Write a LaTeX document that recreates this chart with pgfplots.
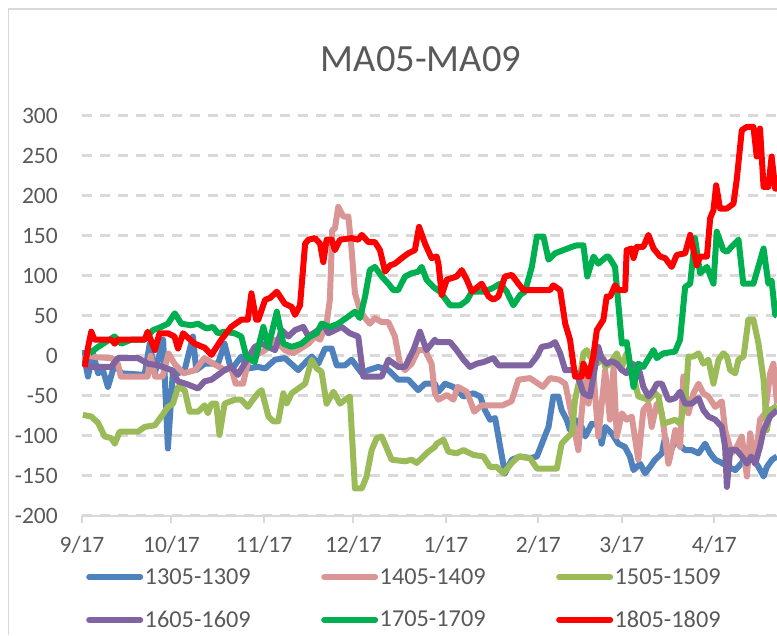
\documentclass[border=0pt]{standalone}
\usepackage{pgfplots}
\pgfplotsset{compat=1.18}
\usepackage{fontspec}
\setmainfont{Carlito}
\definecolor{cBlue}{HTML}{4F81BD}
\definecolor{cPink}{HTML}{DA9694}
\definecolor{cLime}{HTML}{9BBB59}
\definecolor{cPurple}{HTML}{8064A2}
\definecolor{cGreen}{HTML}{00B050}
\definecolor{cRed}{HTML}{FF0000}
\definecolor{gridgray}{HTML}{D9D9D9}
\definecolor{txtgray}{HTML}{595959}
\begin{document}
\begin{tikzpicture}
\useasboundingbox (0,0) rectangle (777pt,635pt);
\draw[gridgray, line width=1.5pt] (8.5pt,0) -- (8.5pt,626pt) -- (777pt,626pt);
\node[anchor=base, font=\fontsize{38.5}{42}\selectfont, text=txtgray, inner sep=0pt] at (421pt,563pt) {MA05-MA09};
\begin{axis}[
  at={(82pt,119.3pt)}, anchor=south west,
  width=695pt, height=400pt, scale only axis,
  xmin=0, xmax=233, ymin=-200, ymax=300,
  axis lines*=left,
  axis line style={-},
  x axis line style={gridgray, line width=2pt},
  y axis line style={draw=none},
  tick align=outside, major tick length=7pt,
  xtick={0,30,61,91,122,153,181,212},
  xticklabels={9/17,10/17,11/17,12/17,1/17,2/17,3/17,4/17},
  ytick={-200,-150,...,300},
  yticklabels={-200,-150,-100,-50,0,50,100,150,200,250,300},
  xtick style={gridgray, line width=2pt},
  ytick style={draw=none},
  ticklabel style={font=\fontsize{23.5}{26}\selectfont, text=txtgray, inner sep=0pt},
  yticklabel style={xshift=-17pt},
  xticklabel style={yshift=-13pt},
  ymajorgrids, major grid style={gridgray, line width=2.5pt, dash pattern=on 10pt off 8pt},
  every axis plot/.append style={line width=6pt, line join=round, no markers},
  legend columns=3,
  legend cell align=left,
  legend image code/.code={\draw[#1, line width=6pt, line cap=round] (0pt,0pt) -- (51pt,0pt);},
  legend style={at={(rel axis cs:0.0058,-0.1275)}, anchor=north west, draw=none, fill=none,
    font=\fontsize{24.3}{27}\selectfont, text=txtgray, inner sep=0pt,
    nodes={inner sep=1.5pt}, row sep=22pt,
    /tikz/every even column/.append style={column sep=69pt}},
]
\addplot[cBlue] coordinates {(0.3,7) (2,-26) (3.7,3) (5.4,-22) (7,-18) (8.7,-39) (11,-10) (13.2,-22) (21,-24) (22.7,15) (24.4,-22) (27.2,20) (28.8,-116) (30.5,-18) (32.2,-22) (34.4,-18) (37.2,24) (38.3,-18) (41.1,-10) (45.6,-10) (47.8,15) (50,-18) (53.4,-1) (55.6,-16) (59,-14) (61.4,-16) (64.7,-5) (68,-3) (72.5,-18) (75.3,-7) (77,-1) (79.2,-10) (81.5,9) (83.7,9) (85.4,-12) (88.2,-12) (90.4,-5) (93.8,-22) (96,-18) (99.3,-14) (102.7,-18) (106,-30) (109.4,-30) (112.7,-43) (115,-35) (118.3,-35) (119.5,-45) (121.7,-35) (124.5,-39) (127.9,-51) (131.2,-47) (133.5,-51) (135.1,-68) (136.8,-80) (138.5,-78) (140.2,-114) (141.8,-147) (144.1,-130) (146.9,-126) (150.2,-128) (152.5,-126) (154.7,-105) (156.4,-89) (158,-51) (159.7,-51) (160.8,-68) (162.5,-80) (163.6,-93) (165.3,-80) (167.5,-89) (168.7,-101) (170.9,-85) (173.1,-87) (174.2,-110) (175.4,-89) (177.6,-97) (179.8,-110) (182,-114) (183.7,-126) (184.9,-143) (187.1,-135) (188.8,-147) (190.4,-139) (192.1,-130) (194.4,-122) (195.5,-101) (196.6,-126) (198.9,-106) (201.1,-114) (202.2,-118) (204.4,-118) (206.7,-122) (208.9,-110) (210.6,-122) (212.3,-130) (214.5,-134) (216.7,-139) (219,-143) (221.2,-134) (223.4,-126) (225.1,-130) (226.8,-139) (228.5,-151) (229.6,-139) (231.3,-130) (233,-126)};
\addlegendentry{1305-1309}
\addplot[cPink] coordinates {(0,-5) (2,0) (5,-2) (10,-3) (12,-10) (13,-26) (22,-26) (23,0) (24.5,-26) (27,-26) (29,3) (31,-10) (34,-22) (38,-18) (41,-3) (44,-10) (48,-18) (50,-15) (51.5,-35) (54,-35) (55.5,-10) (58,0) (61.4,7) (64.7,20) (68,7) (70.8,3) (72.5,7) (75.9,15) (78.1,24) (79.8,20) (82,40) (83.1,70) (83.9,157) (84.8,159) (85.9,186) (87.6,174) (89.3,174) (90.4,132) (91.5,78) (93.2,57) (94.9,47) (96.5,40) (98.2,47) (100.5,42) (102.7,42) (104.9,24) (106.6,-10) (108.3,-18) (110.5,-10) (112.7,7) (115,7) (117.2,-10) (118.3,-47) (119.5,-55) (122.3,-49) (124.5,-55) (126,-39) (129,-45) (131.5,-70) (134,-62) (141,-62) (144,-57) (146.3,-30) (150.2,-28) (154.5,-39) (156.9,-28) (160,-30) (162,-35) (163.6,-64) (166.4,-118) (168.7,-22) (169.8,-60) (171.4,-18) (173.1,-101) (175.4,-18) (177,-80) (178.2,-14) (179.3,-101) (181,-72) (182.6,-80) (184.3,-76) (186.5,-130) (188.2,-68) (189.9,-60) (191,-89) (192.7,-60) (194.4,-72) (196.6,-135) (197.2,-126) (198.9,-93) (200.5,-114) (201.6,-26) (203.3,-72) (205,-47) (206.7,-35) (208.3,-47) (210,-51) (212.3,-64) (214.5,-57) (215.6,-93) (217.8,-122) (219.5,-114) (221.2,-101) (222.9,-151) (224,-97) (225.7,-135) (227.3,-80) (229,-72) (230.7,-22) (231.8,-10) (233,-60)};
\addlegendentry{1405-1409}
\addplot[cLime] coordinates {(0.3,-74) (3.1,-76) (5.4,-84) (7.6,-101) (9.8,-103) (11,-110) (12.6,-95) (18.8,-95) (21,-89) (24.4,-87) (26.6,-76) (28.8,-64) (30.5,-60) (32.2,-39) (33.3,-41) (34.4,-43) (36.1,-70) (38.9,-70) (41.1,-62) (42.2,-72) (43.4,-60) (45,-60) (46.1,-99) (47.8,-60) (51.2,-55) (53.4,-55) (55.6,-64) (57.3,-55) (59,-47) (60.2,-43) (62.5,-76) (64.1,-82) (65.8,-82) (67.5,-47) (68.6,-60) (70.3,-47) (72.5,-41) (74.8,-35) (77,-5) (78.7,-16) (80.3,-20) (82,-60) (84.3,-45) (86.5,-60) (88.2,-55) (89.8,-51) (91.5,-166) (93.8,-166) (95.4,-151) (97.1,-118) (98.8,-103) (100.5,-101) (103.8,-130) (108.3,-132) (110.5,-130) (112.2,-134) (113.9,-128) (116.1,-120) (118.3,-114) (118.9,-110) (121.2,-105) (122.8,-120) (125.6,-122) (127.9,-118) (131.2,-124) (134.6,-126) (136.8,-139) (139,-139) (141.3,-147) (144.1,-134) (146.3,-126) (150.2,-128) (152.5,-141) (159.2,-141) (160.8,-110) (162.5,-103) (164.2,-97) (165.3,-55) (167,-26) (168.1,3) (169.2,7) (170.3,-1) (172.6,-10) (174.8,-3) (175.4,-14) (177,-10) (179.3,3) (181,-14) (182.6,3) (184.9,-26) (186.5,-51) (189.9,-55) (192.1,-47) (193.3,-51) (194.9,-85) (198.9,-80) (200.5,-85) (202.2,-60) (203.3,-1) (205,-1) (206.7,3) (208.3,-10) (210,-5) (211.7,-35) (213.4,-5) (215,3) (216.2,-1) (217.3,-18) (219,-22) (220.1,-5) (221.8,-1) (223.4,45) (225.1,45) (226.8,15) (228.5,-30) (229.6,-93) (230.7,-68) (232.4,-64) (233,-62)};
\addlegendentry{1505-1509}
\addplot[cPurple] coordinates {(0.9,-14) (9.8,-14) (12,-3) (18.8,-3) (22.1,-10) (25.5,-12) (30,-18) (32.2,-32) (35.5,-36) (38.9,-41) (41.1,-32) (43.4,-30) (45.6,-24) (47.8,-18) (50,-14) (52.3,-24) (54.5,-10) (57.9,11) (60.2,15) (64.7,7) (66.9,32) (69.2,24) (71.4,32) (74.2,36) (75.9,24) (79.2,32) (80.9,40) (82.6,28) (87,36) (89.8,28) (92.6,24) (94.3,-26) (100.5,-26) (102.7,-5) (106,-14) (108.3,-14) (111.1,7) (113.3,30) (115.5,7) (118.3,20) (118.9,17) (123.4,17) (125.6,7) (127.9,-5) (130.1,-14) (132.3,-10) (134.6,-8) (137.9,-3) (139.6,-12) (150.2,-12) (152.5,-1) (154.1,11) (156.9,13) (158.6,17) (160.3,3) (162,-18) (164.7,-18) (165.9,-22) (168.1,-47) (170.3,-51) (172,-14) (173.1,11) (174.2,-3) (175.9,-10) (177.6,-7) (179.3,-10) (181,-18) (182.6,-22) (184.3,-10) (186.5,-14) (188.2,-39) (189.9,-51) (191.6,-43) (192.7,-35) (194.4,-35) (196.6,-55) (197.2,-55) (198.9,-53) (200.5,-45) (202.2,-60) (204.4,-60) (206.7,-53) (208.3,-68) (210,-76) (212.3,-80) (214.5,-89) (215.6,-114) (216.2,-164) (217.3,-118) (219.5,-118) (221.2,-126) (222.9,-135) (224.3,-126) (225.7,-135) (227.3,-114) (228.5,-93) (230.7,-76) (233,-68)};
\addlegendentry{1605-1609}
\addplot[cGreen] coordinates {(2.6,3) (5.4,11) (10.9,24) (13.2,15) (16.5,20) (21,20) (23.8,32) (26.6,36) (28.8,40) (31.1,53) (33.3,40) (36.6,38) (38.9,40) (41.7,34) (43.9,36) (45.6,28) (47.8,30) (51.2,28) (53.4,24) (55.1,-1) (57.9,-8) (60.8,36) (62.5,11) (65.3,55) (67.5,15) (70.3,11) (73.6,15) (76.4,24) (78.7,28) (80.3,40) (83.1,36) (85.9,40) (89.3,49) (91.5,55) (93.2,47) (94.9,74) (96.5,107) (98.2,111) (100.5,99) (102.7,90) (104.4,82) (106,82) (108.3,99) (110.5,103) (112.7,105) (113.9,111) (115.5,95) (117.8,86) (120,80) (123.4,63) (126.8,63) (129,69) (130.7,80) (134.6,80) (137.4,84) (140.2,90) (142.4,80) (144.6,63) (146.9,76) (148.5,80) (150.8,111) (152.5,149) (154.7,149) (156.4,120) (158.6,128) (161.4,132) (164.2,136) (165.9,138) (168.1,138) (169.4,99) (171.5,124) (173.1,115) (175.9,124) (176.5,124) (178.7,111) (181,15) (182.6,17) (184.9,-39) (186.5,-10) (188.2,-14) (191.6,7) (192.7,-3) (194.9,3) (198.8,5) (200.5,20) (202.2,86) (203.9,90) (205.5,147) (207.2,103) (209.5,111) (211.7,90) (212.8,155) (215,132) (216.2,130) (220.1,145) (221.7,90) (225.1,90) (228.5,134) (230.1,90) (231.2,94) (232.4,51) (233,50)};
\addlegendentry{1705-1709}
\addplot[cRed] coordinates {(0.9,-14) (2,10) (3.1,30) (4.2,20) (9.8,20) (11,15) (12,20) (21,20) (22,30) (24.4,7) (26,28) (28.8,28) (31,24) (32.2,9) (33.9,28) (37.8,15) (41.1,10) (43.4,1) (46.7,20) (50,36) (53.4,45) (55.6,45) (56.8,78) (58.4,45) (59.1,45) (61.4,70) (63,72) (65.3,80) (68,65) (70.3,61) (71.4,51) (73.1,63) (74.8,140) (75.9,145) (78.1,147) (79.8,140) (80.9,117) (82,145) (83.7,145) (84.8,132) (86.5,145) (90.4,147) (92.6,145) (93.8,151) (96,142) (98.2,142) (99.9,132) (101.6,105) (103.3,113) (104.9,115) (107.2,122) (109.4,128) (111.6,132) (113,161) (115,140) (117.2,122) (118.9,124) (119.5,115) (120.6,76) (122.3,95) (125.6,99) (127.3,107) (129,95) (130.7,80) (134,90) (136.3,74) (137.9,70) (139.6,74) (141.8,99) (144.1,101) (146.3,90) (148,82) (156.9,82) (158,88) (160.3,82) (162,40) (163.6,20) (165.3,-26) (167.5,-26) (168.1,-10) (169.8,-26) (171.4,-1) (172.6,32) (174.8,45) (175.9,74) (177.1,74) (178.7,88) (179.8,82) (182.1,82) (182.6,132) (184.3,134) (184.9,122) (186,136) (188.2,136) (189.9,151) (191.6,134) (193.8,124) (195.5,122) (197.7,111) (199.4,126) (202.2,128) (203.9,151) (206.1,113) (207.2,124) (209.5,124) (210.6,172) (211.7,182) (212.6,213) (213.9,184) (216.2,184) (218.4,190) (219.5,220) (221.2,282) (222.9,286) (225.1,286) (226.2,249) (227.3,284) (228.5,211) (230.1,211) (231.2,249) (232.4,209) (233,209)};
\addlegendentry{1805-1809}
\end{axis}
\end{tikzpicture}
\end{document}
